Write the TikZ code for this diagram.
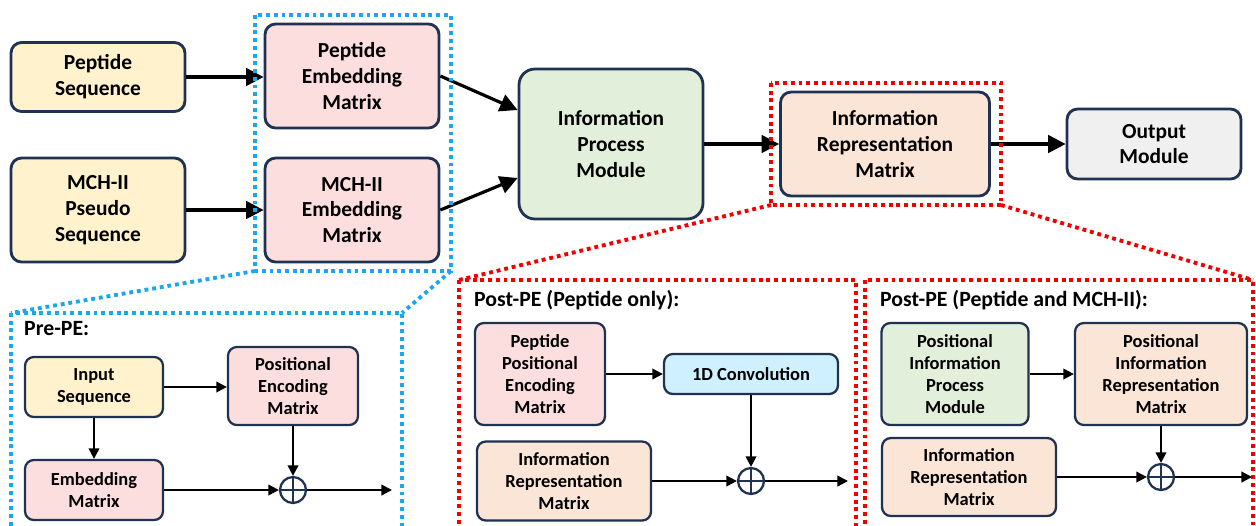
\documentclass[tikz,border=0pt]{standalone}
\usepackage{fontspec}
\setmainfont{Carlito}
\usetikzlibrary{arrows.meta,positioning}
\definecolor{seqfill}{HTML}{FFF2CC}
\definecolor{embfill}{HTML}{FDDEDF}
\definecolor{procfill}{HTML}{E2EFDA}
\definecolor{reprfill}{HTML}{FBE5D6}
\definecolor{outfill}{HTML}{F0F0F0}
\definecolor{convfill}{HTML}{CFF0FF}
\definecolor{edge}{HTML}{1F3251}
\definecolor{skyblue}{HTML}{1AA7EC}
\definecolor{brightred}{HTML}{F20000}
\tikzset{
  box/.style={draw=edge, line width=1.6pt, rounded corners=6pt, align=center,
    font=\bfseries\fontsize{12.2}{14.7}\selectfont},
  smallbox/.style={draw=edge, line width=1.3pt, rounded corners=5pt, align=center,
    font=\bfseries\fontsize{10.5}{12.4}\selectfont},
  bigarrow/.style={line width=1.8pt, -{Triangle[length=10pt,width=10pt]}},
  smallarrow/.style={line width=1.2pt, -{Triangle[length=6pt,width=6pt]}},
  dotbox/.style={line width=2.2pt, dash pattern=on 2.2pt off 2.2pt},
  adder/.style={circle, draw=edge, line width=1.3pt, minimum size=0.52cm, inner sep=0pt,
    path picture={\draw[edge, line width=1.3pt]
      (path picture bounding box.north) -- (path picture bounding box.south)
      (path picture bounding box.west) -- (path picture bounding box.east);}},
  paneltitle/.style={anchor=west, font=\bfseries\fontsize{12.4}{14}\selectfont}
}
\begin{document}
\begin{tikzpicture}[x=0.02cm, y=-0.02cm]
\useasboundingbox (0,0) rectangle (1256,525);
\clip (0,0) rectangle (1256,525);
% Main pipeline
\node[box, fill=seqfill, minimum width=3.48cm, minimum height=1.38cm] (pepseq) at (98,77) {Peptide\\Sequence};
\node[box, fill=seqfill, minimum width=3.48cm, minimum height=2.08cm] (mchseq) at (98,210) {MCH-II\\Pseudo\\Sequence};
\node[box, fill=embfill, minimum width=3.48cm, minimum height=2.08cm] (pepemb) at (352,76) {Peptide\\Embedding\\Matrix};
\node[box, fill=embfill, minimum width=3.48cm, minimum height=2.08cm] (mchemb) at (352,210) {MCH-II\\Embedding\\Matrix};
\node[box, fill=procfill, minimum width=3.68cm, minimum height=3.0cm, rounded corners=9pt] (ipm) at (611,144) {Information\\Process\\Module};
\node[box, fill=reprfill, minimum width=4.18cm, minimum height=2.08cm] (irm) at (885,144) {Information\\Representation\\Matrix};
\node[box, fill=outfill, minimum width=3.48cm, minimum height=1.4cm] (outmod) at (1154,144) {Output\\Module};

\draw[bigarrow] (pepseq) -- (pepseq -| pepemb.west);
\draw[bigarrow] (mchseq) -- (mchseq -| mchemb.west);
\draw[bigarrow] (pepemb.east) -- (ipm.160);
\draw[bigarrow] (mchemb.east) -- (ipm.200);
\draw[bigarrow] (ipm) -- (irm);
\draw[bigarrow] (irm) -- (outmod);

% Zoom frames
\draw[skyblue, dotbox] (255,15) rectangle (451,271);
\draw[skyblue, dotbox] (255,271) -- (11,313) (451,271) -- (402,313);
\draw[skyblue, dotbox] (11,313) rectangle (402,545);
\draw[brightred, dotbox] (771,83) rectangle (1001,205);
\draw[brightred, dotbox] (771,205) -- (459,280) (1001,205) -- (1253,280);
\draw[brightred, dotbox] (459,280) rectangle (856,545);
\draw[brightred, dotbox] (865,280) rectangle (1253,545);

% Pre-PE
\node[paneltitle] (pretitle) at (18,329) {Pre-PE:};
\node[smallbox, fill=seqfill, minimum width=2.76cm, minimum height=1.2cm] (inseq) at (94,387) {Input\\Sequence};
\node[smallbox, fill=embfill, minimum width=2.6cm, minimum height=1.56cm] (posenc) at (293,386) {Positional\\Encoding\\Matrix};
\node[smallbox, fill=embfill, minimum width=2.76cm, minimum height=1.2cm] (embmat) at (94,490) {Embedding\\Matrix};
\node[adder] (addA) at (293,490) {};
\coordinate (endA) at (392,490);
\draw[smallarrow] (inseq) -- (inseq -| posenc.west);
\draw[smallarrow] (inseq) -- (embmat);
\draw[smallarrow] (posenc) -- (addA);
\draw[smallarrow] (embmat) -- (addA);
\draw[smallarrow] (addA) -- (endA);

% Post-PE (Peptide only)
\node[paneltitle] (posttitleA) at (468,300) {Post-PE (Peptide only):};
\node[smallbox, fill=embfill, minimum width=2.6cm, minimum height=2.04cm] (pepposenc) at (540,374) {Peptide\\Positional\\Encoding\\Matrix};
\node[smallbox, fill=convfill, minimum width=3.48cm, minimum height=0.8cm] (conv) at (751,374) {1D Convolution};
\node[smallbox, fill=reprfill, minimum width=3.48cm, minimum height=1.58cm] (irmA) at (564,481) {Information\\Representation\\Matrix};
\node[adder] (addB) at (751,481) {};
\coordinate (endB) at (848,481);
\draw[smallarrow] (pepposenc) -- (conv);
\draw[smallarrow] (conv) -- (addB);
\draw[smallarrow] (irmA) -- (addB);
\draw[smallarrow] (addB) -- (endB);

% Post-PE (Peptide and MCH-II)
\node[paneltitle] (posttitleB) at (874,300) {Post-PE (Peptide and MCH-II):};
\node[smallbox, fill=procfill, minimum width=2.94cm, minimum height=2.04cm] (pipm) at (955,374) {Positional\\Information\\Process\\Module};
\node[smallbox, fill=reprfill, minimum width=3.44cm, minimum height=2.04cm] (pirm) at (1161,374) {Positional\\Information\\Representation\\Matrix};
\node[smallbox, fill=reprfill, minimum width=3.48cm, minimum height=1.56cm] (irmB) at (969,477) {Information\\Representation\\Matrix};
\node[adder] (addC) at (1161,477) {};
\coordinate (endC) at (1252,477);
\draw[smallarrow] (pipm) -- (pirm);
\draw[smallarrow] (pirm) -- (addC);
\draw[smallarrow] (irmB) -- (addC);
\draw[smallarrow] (addC) -- (endC);
\end{tikzpicture}
\end{document}
